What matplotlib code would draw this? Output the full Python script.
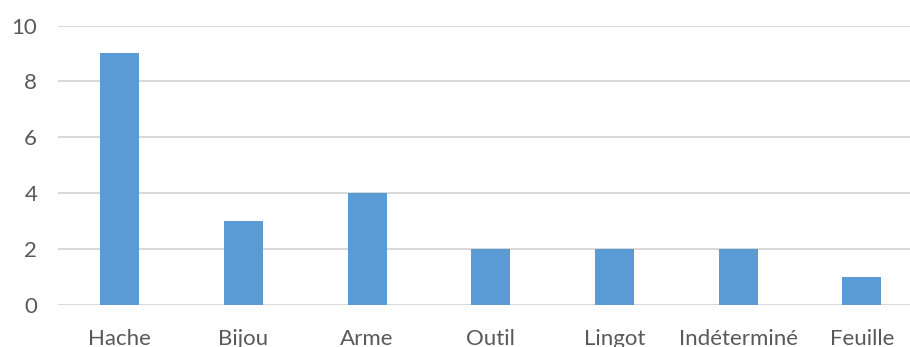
import matplotlib
matplotlib.use('Agg')
import matplotlib.pyplot as plt

categories = ['Hache', 'Bijou', 'Arme', 'Outil', 'Lingot', 'Indéterminé', 'Feuille']
counts = [9, 3, 4, 2, 2, 2, 1]
yticks = [0, 2, 4, 6, 8, 10]

plt.rcParams['font.family'] = ['Lato', 'DejaVu Sans']

fig = plt.figure(figsize=(9.10, 3.47), dpi=100)
ax = fig.add_axes([58/910, 1 - 305/347, 1 - 58/910, (305 - 25.5)/347])

x = range(len(categories))
ax.bar(x, counts, width=0.315, color='#5B9BD5', zorder=3)

ax.set_ylim(0, 10)
ax.set_xlim(-0.5, 6.39)
ax.set_yticks(yticks)
ax.set_xticks(list(x))
ax.set_xticklabels(categories)
ax.yaxis.grid(True, color='#D9D9D9', linewidth=1.5, zorder=0)
for s in ax.spines.values():
    s.set_visible(False)
ax.tick_params(length=0, labelsize=16, colors='#595959')
ax.tick_params(axis='x', pad=17)
ax.tick_params(axis='y', pad=15)

fig.savefig('out.png', dpi=100)
